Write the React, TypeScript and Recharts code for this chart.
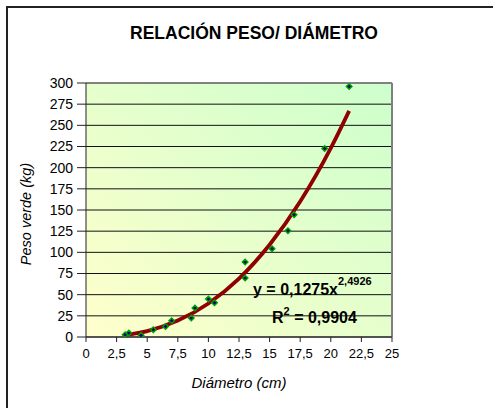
import React from "react";
import {
  ComposedChart,
  Scatter,
  Line,
  XAxis,
  YAxis,
  CartesianGrid,
  ReferenceLine,
} from "recharts";

// Measured points: diameter (cm) and green weight (kg)
const diametro = [3.2, 3.5, 4.5, 5.5, 6.5, 7.0, 8.6, 8.9, 10.0, 10.5, 13.0, 13.0, 15.2, 16.5, 17.0, 19.5, 21.5];
const pesoVerde = [2.7, 4.7, 1.9, 8.6, 12.5, 19.2, 22.4, 34.2, 44.9, 40.5, 88.5, 69.7, 104.2, 125.5, 144.4, 222.7, 295.9];

// Trend line values
const trendX = [3.3, 5, 7.5, 10, 12.5, 15, 17.5, 20, 21.5];
const trendY = [2.5, 7, 19.4, 39.6, 69, 109, 160, 223, 267];

const xTicks = [0, 2.5, 5, 7.5, 10, 12.5, 15, 17.5, 20, 22.5, 25];
const yTicks = [0, 25, 50, 75, 100, 125, 150, 175, 200, 225, 250, 275, 300];

const title = "RELACIÓN PESO/ DIÁMETRO";
const xTitle = "Diámetro (cm)";
const yTitle = "Peso verde (kg)";
const eqMain = "y = 0,1275x";
const eqExp = "2,4926";
const r2Value = " = 0,9904";

const points = diametro.map((x, i) => ({ x, y: pesoVerde[i] }));
const trend = trendX.map((x, i) => ({ x, y: trendY[i] }));

const FONT = "Arial, 'Liberation Sans', sans-serif";

const Marker = (props: any) => {
  const { cx, cy } = props;
  if (cx == null || cy == null) return null;
  const r = 2.8;
  return (
    <path
      d={`M${cx - r},${cy} L${cx},${cy - r} L${cx + r},${cy} L${cx},${cy + r} Z`}
      fill="#000080"
      stroke="#00a000"
      strokeWidth={1.4}
    />
  );
};

const fmt = (v: number) => String(v).replace(".", ",");

export default function App() {
  return (
    <div
      style={{
        position: "absolute",
        left: 0,
        top: 0,
        width: 493,
        height: 408,
        background: "#fff",
        overflow: "hidden",
      }}
    >
      <svg width={0} height={0} style={{ position: "absolute" }}>
        <defs>
          <linearGradient id="plotBg" x1="0" y1="1" x2="1" y2="0">
            <stop offset="0%" stopColor="#FFFFCC" />
            <stop offset="100%" stopColor="#CCFFCC" />
          </linearGradient>
        </defs>
      </svg>
      <div
        style={{
          position: "absolute",
          left: 6,
          top: 6,
          width: 600,
          height: 500,
          borderLeft: "2px solid #222",
          borderTop: "2px solid #222",
        }}
      />
      <div style={{ position: "absolute", left: 0, top: 0 }}>
        <ComposedChart
          width={493}
          height={408}
          margin={{ top: 83, right: 101, bottom: 41, left: 36 }}
        >
          <CartesianGrid
            vertical={false}
            stroke="#111"
            strokeWidth={1}
            fill="url(#plotBg)"
            fillOpacity={1}
          />
          <XAxis
            type="number"
            dataKey="x"
            domain={[0, 25]}
            ticks={xTicks}
            tickFormatter={fmt}
            interval={0}
            height={30}
            tickSize={5}
            tickMargin={7}
            stroke="#222"
            tick={{ fill: "#000", fontSize: 13, fontFamily: FONT }}
            allowDataOverflow
          />
          <YAxis
            type="number"
            dataKey="y"
            domain={[0, 300]}
            ticks={yTicks}
            interval={0}
            width={50}
            tickSize={9}
            tickMargin={4}
            stroke="#222"
            tick={{ fill: "#000", fontSize: 14, fontFamily: FONT }}
            allowDataOverflow
          />
          <ReferenceLine x={25} stroke="#808080" strokeWidth={2} />
          <ReferenceLine y={300} stroke="#808080" strokeWidth={1.5} />
          <Scatter
            data={points}
            dataKey="y"
            shape={<Marker />}
            isAnimationActive={false}
          />
          <Line
            data={trend}
            dataKey="y"
            type="monotone"
            stroke="#8f0000"
            strokeWidth={3.8}
            dot={false}
            activeDot={false}
            isAnimationActive={false}
          />
        </ComposedChart>
      </div>
      <svg
        width={493}
        height={408}
        style={{ position: "absolute", left: 0, top: 0, pointerEvents: "none" }}
        fontFamily={FONT}
      >
        <text x={254} y={39} textAnchor="middle" fontSize={17.5} fontWeight="bold" fill="#000">
          {title}
        </text>
        <text
          x={0}
          y={0}
          transform="translate(31,214) rotate(-90)"
          textAnchor="middle"
          fontSize={14.5}
          fontStyle="italic"
          fill="#000"
        >
          {yTitle}
        </text>
        <text x={239} y={388} textAnchor="middle" fontSize={15} fontStyle="italic" fill="#000">
          {xTitle}
        </text>
        <text x={253} y={295} fontSize={16} fontWeight="bold" fill="#000">
          {eqMain}
          <tspan fontSize={11} dy={-10}>
            {eqExp}
          </tspan>
        </text>
        <text x={272} y={323} fontSize={16} fontWeight="bold" fill="#000" xmlSpace="preserve">
          R
          <tspan fontSize={11} dy={-8}>
            2
          </tspan>
          <tspan fontSize={16} dy={8}>
            {r2Value}
          </tspan>
        </text>
      </svg>
    </div>
  );
}
